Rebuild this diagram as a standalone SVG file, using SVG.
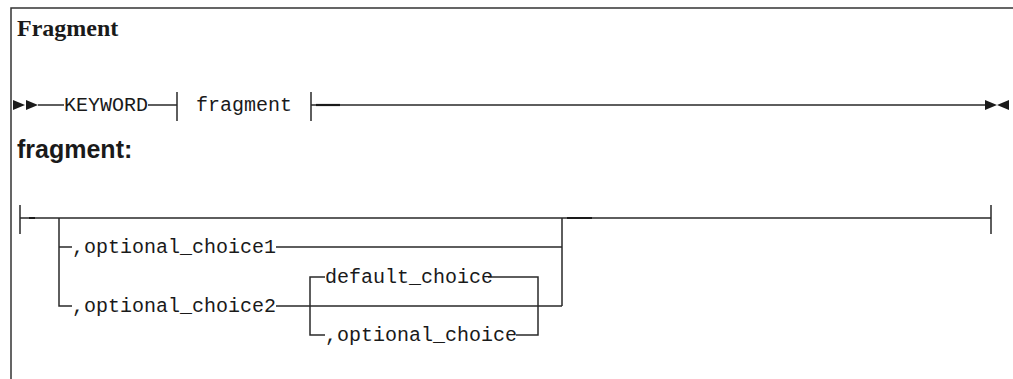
<svg xmlns="http://www.w3.org/2000/svg" width="1013" height="379" viewBox="0 0 1013 379">
<style>
.ln{stroke:#2a2a2a;stroke-width:1.5;fill:none}
.dk{stroke:#1a1a1a;stroke-width:2.2;fill:none}
.fr{stroke:#333;stroke-width:1.5;fill:none}
.mono{font-family:"Liberation Mono","DejaVu Sans Mono",monospace;font-size:20px;fill:#1a1a1a}
.title{font-family:"Liberation Serif",serif;font-weight:bold;font-size:24px;fill:#1a1a1a}
.head{font-family:"Liberation Sans",Arial,sans-serif;font-weight:bold;font-size:25px;fill:#1a1a1a}
.ah{fill:#1a1a1a}
</style>
<rect width="1013" height="379" fill="#fff"/>
<g id="frame">
<path class="fr" d="M11,379 V8 H1013"/>
</g>
<g id="title"><text class="title" x="17" y="36">Fragment</text></g>
<g id="heading"><text class="head" x="17" y="158">fragment:</text></g>
<g id="connectors">
<path class="ah" d="M13,100 L25,105 L13,110 Z M26,100 L38,105 L26,110 Z"/>
<path class="ln" d="M38,105 H64 M148,105 H177 M177,92 V121 M311,92 V121 M311,105 H985"/>
<path class="dk" d="M316,105 H340"/>
<path class="ah" d="M985,100 L997,105 L985,110 Z M1009,100 L997,105 L1009,110 Z"/>
<path class="ln" d="M20,205 V234 M20,218 H991 M991,205 V234"/>
<path class="dk" d="M29,218 H35 M567,218 H592"/>
<path class="ln" d="M59,218 V306 H72 M59,247 H72 M276,247 H562 M276,306 H562 M562,218 V306"/>
<path class="ln" d="M325,277 H310 V335 H325 M488,277 H538 V335 H516"/>
</g>
<g id="n-keyword"><text class="mono" x="64" y="111">KEYWORD</text></g>
<g id="n-fragment"><text class="mono" x="196" y="111">fragment</text></g>
<g id="n-choice1"><text class="mono" x="72" y="253">,optional_choice1</text></g>
<g id="n-choice2"><text class="mono" x="72" y="312">,optional_choice2</text></g>
<g id="n-default"><text class="mono" x="325" y="283">default_choice</text></g>
<g id="n-optional"><text class="mono" x="325" y="341">,optional_choice</text></g>
</svg>
